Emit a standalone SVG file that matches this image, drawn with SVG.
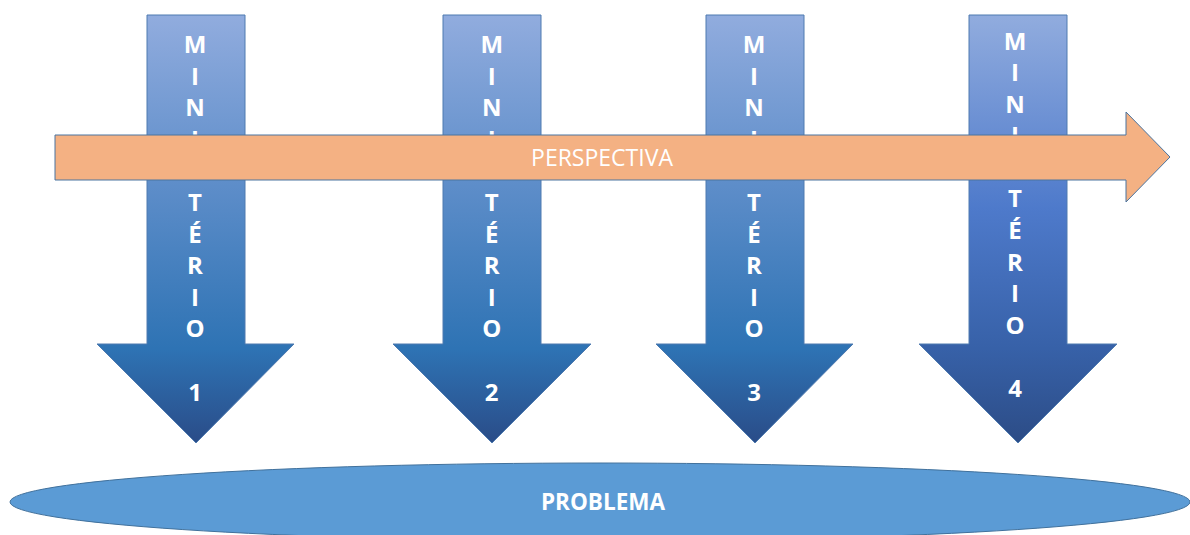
<svg xmlns="http://www.w3.org/2000/svg" width="1190" height="535" viewBox="0 0 1190 535">
<defs>
<linearGradient id="gA" x1="0" y1="0" x2="0" y2="1">
<stop offset="0" stop-color="#91ACDE"/>
<stop offset="0.4" stop-color="#5D8DC9"/>
<stop offset="0.78" stop-color="#2E73B4"/>
<stop offset="1" stop-color="#2A4C88"/>
</linearGradient>
<linearGradient id="gB" x1="0" y1="0" x2="0" y2="1">
<stop offset="0" stop-color="#91ACDE"/>
<stop offset="0.45" stop-color="#4E7ACB"/>
<stop offset="0.78" stop-color="#3761A8"/>
<stop offset="1" stop-color="#2C4C86"/>
</linearGradient>
<style>
.arr{stroke:#4F7BB0;stroke-width:1}
.lt{font-family:"Open Sans","Liberation Sans",sans-serif;font-weight:bold;font-size:24px;fill:#FFFFFF;text-anchor:middle}
.or{fill:#F4B183;stroke:#4A74A0;stroke-width:1}
.pt{font-family:"Open Sans","Liberation Sans",sans-serif;font-size:23px;fill:#FFFFFF;text-anchor:middle}
.pb{font-family:"Open Sans","Liberation Sans",sans-serif;font-weight:bold;font-size:22.5px;fill:#FFFFFF;text-anchor:middle}
</style>
</defs>
<rect width="1190" height="535" fill="#FFFFFF"/>
<g id="problema">
<ellipse cx="600" cy="502" rx="590" ry="39" fill="#5B9BD5" stroke="#41719C" stroke-width="1"/>
<text class="pb" x="603" y="510">PROBLEMA</text>
</g>
<g id="ministerio1">
<path class="arr" fill="url(#gA)" d="M147,15 H245 V344 H294 L196,443 L97,344 H147 Z"/>
<text class="lt"><tspan x="195" y="53">M</tspan><tspan x="195" y="84.6">I</tspan><tspan x="195" y="116.2">N</tspan><tspan x="195" y="147.8">I</tspan><tspan x="195" y="179.4">S</tspan><tspan x="195" y="211">T</tspan><tspan x="195" y="242.6">É</tspan><tspan x="195" y="274.2">R</tspan><tspan x="195" y="305.8">I</tspan><tspan x="195" y="337.4">O</tspan><tspan x="195" y="400.6">1</tspan></text>
</g>
<g id="ministerio2">
<path class="arr" fill="url(#gA)" d="M443,15 H541 V344 H591 L492,443 L393,344 H443 Z"/>
<text class="lt"><tspan x="491.7" y="53">M</tspan><tspan x="491.7" y="84.6">I</tspan><tspan x="491.7" y="116.2">N</tspan><tspan x="491.7" y="147.8">I</tspan><tspan x="491.7" y="179.4">S</tspan><tspan x="491.7" y="211">T</tspan><tspan x="491.7" y="242.6">É</tspan><tspan x="491.7" y="274.2">R</tspan><tspan x="491.7" y="305.8">I</tspan><tspan x="491.7" y="337.4">O</tspan><tspan x="491.7" y="400.6">2</tspan></text>
</g>
<g id="ministerio3">
<path class="arr" fill="url(#gA)" d="M706,15 H804 V344 H853 L755,443 L656,344 H706 Z"/>
<text class="lt"><tspan x="754" y="53">M</tspan><tspan x="754" y="84.6">I</tspan><tspan x="754" y="116.2">N</tspan><tspan x="754" y="147.8">I</tspan><tspan x="754" y="179.4">S</tspan><tspan x="754" y="211">T</tspan><tspan x="754" y="242.6">É</tspan><tspan x="754" y="274.2">R</tspan><tspan x="754" y="305.8">I</tspan><tspan x="754" y="337.4">O</tspan><tspan x="754" y="400.6">3</tspan></text>
</g>
<g id="ministerio4">
<path class="arr" fill="url(#gB)" d="M969,15 H1067 V344 H1117 L1018,443 L919,344 H969 Z"/>
<text class="lt"><tspan x="1015" y="49.5">M</tspan><tspan x="1015" y="81">I</tspan><tspan x="1015" y="112.6">N</tspan><tspan x="1015" y="144.2">I</tspan><tspan x="1015" y="175.8">S</tspan><tspan x="1015" y="207.4">T</tspan><tspan x="1015" y="239">É</tspan><tspan x="1015" y="270.6">R</tspan><tspan x="1015" y="302.2">I</tspan><tspan x="1015" y="333.8">O</tspan><tspan x="1015" y="397">4</tspan></text>
</g>
<g id="perspectiva">
<path class="or" d="M55,135 H1126 V112 L1170,157 L1126,202 V180 H55 Z"/>
<text class="pt" x="602" y="166">PERSPECTIVA</text>
</g>
</svg>
